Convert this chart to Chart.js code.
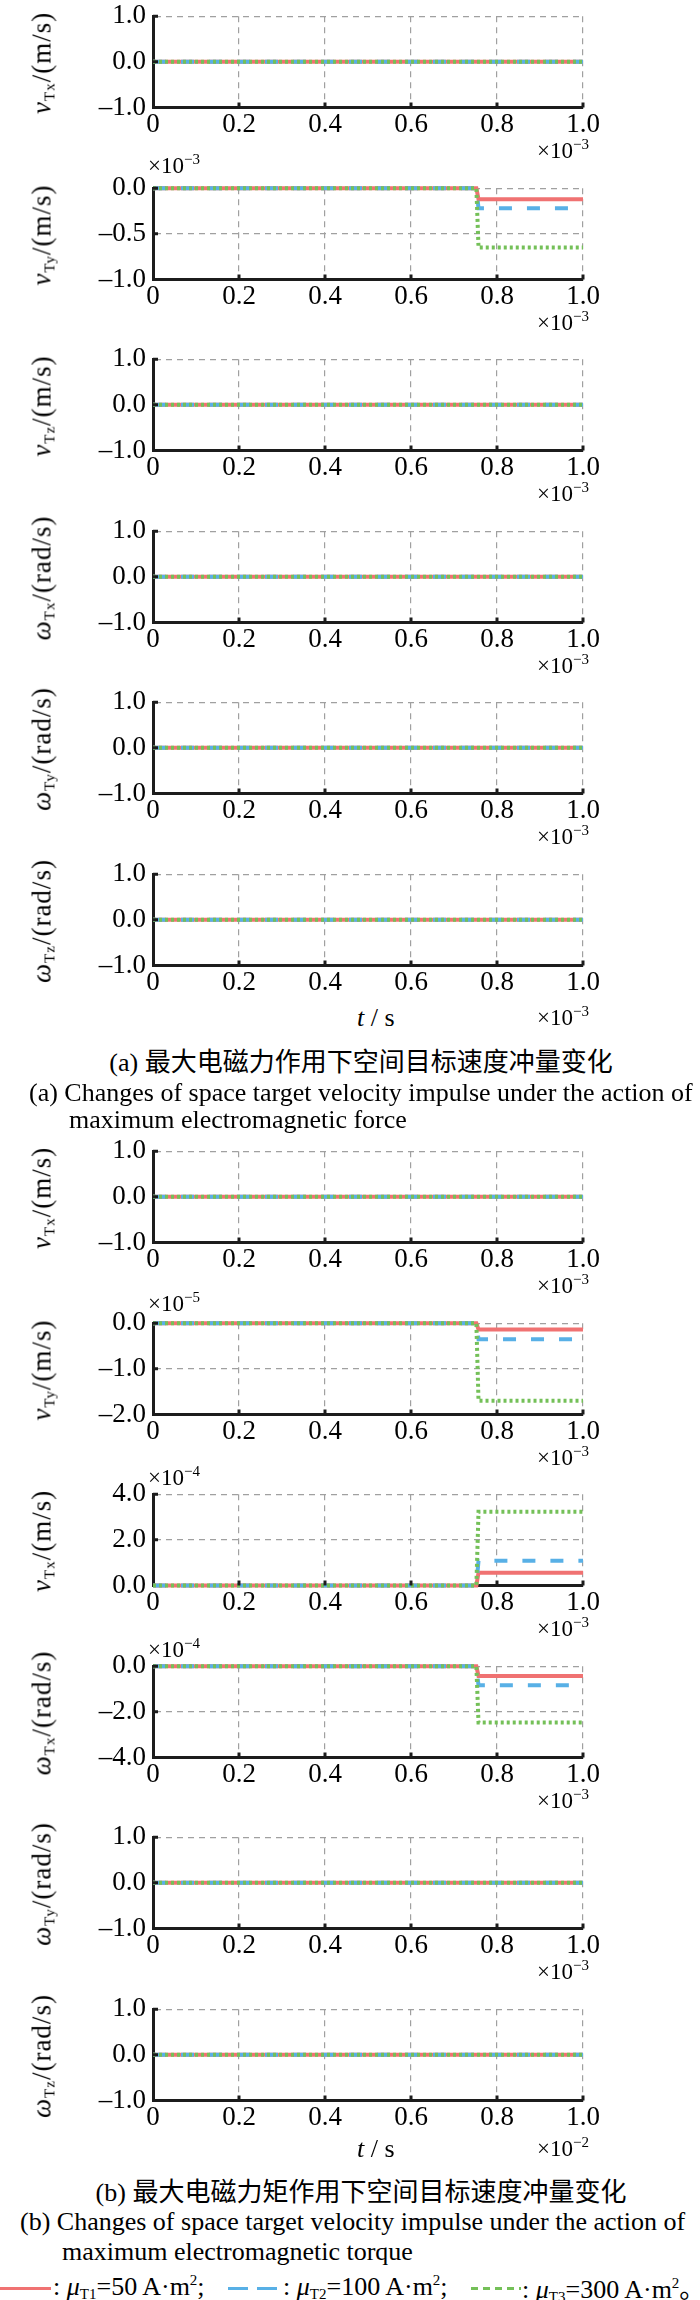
<!DOCTYPE html>
<html>
<head>
<meta charset="utf-8">
<script src="https://cdn.jsdelivr.net/npm/chart.js@4.4.1/dist/chart.umd.min.js"></script>
<style>
  body { margin: 0; background: #fff; }
  #page { position: relative; width: 700px; height: 2300px; overflow: hidden;
          font-family: "Liberation Serif", "Times New Roman", serif; color: #000; }
  .panel { position: absolute; left: 0; width: 700px; height: 150px; }
  .ytitle { position: absolute; left: 42px; white-space: nowrap; font-size: 27px; line-height: 27px;
            letter-spacing: 1px; transform: translate(-50%, -50%) rotate(-90deg); }
  .mult { position: absolute; font-size: 23px; line-height: 23px; white-space: nowrap; }
  .mult sup { font-size: 15px; vertical-align: 9px; line-height: 0; }
  sub { font-size: 15px; vertical-align: -4px; line-height: 0; }
  sup { font-size: 15px; vertical-align: 10px; line-height: 0; }
  .txt { position: absolute; white-space: nowrap; font-size: 26px; line-height: 26px; }
  .cap { position: absolute; left: 0; width: 722px; text-align: center; white-space: nowrap;
         font-size: 26px; line-height: 26px; }
  .cjk { font-family: "Noto Sans CJK SC", sans-serif; }
  .leg { position: absolute; height: 0; top: 2287px; }
</style>
</head>
<body>
<div id="page"></div>
<script>
// ------------------------------------------------------------
// Velocity impulse of the space target, 2 x 6 stacked panels.
// Values are in the units shown by each panel's multiplier.
// ------------------------------------------------------------

const T_S = [0, 0.752, 0.757, 1.0];   // time samples (x multiplier units)
const X_TICKS = [0, 0.2, 0.4, 0.6, 0.8, 1.0];
const X_TICK_LABELS = ['0', '0.2', '0.4', '0.6', '0.8', '1.0'];
const ZERO = [0, 0, 0, 0];

// (a) maximum electromagnetic force, v_Ty (×10^-3 m/s)
const A_VTY_MU1 = [0, 0, -0.12, -0.12];
const A_VTY_MU2 = [0, 0, -0.22, -0.22];
const A_VTY_MU3 = [0, 0, -0.65, -0.65];

// (b) maximum electromagnetic torque
const B_VTY_MU1 = [0, 0, -0.14, -0.14];   // ×10^-5 m/s
const B_VTY_MU2 = [0, 0, -0.35, -0.35];
const B_VTY_MU3 = [0, 0, -1.70, -1.70];
const B_VTX_MU1 = [0, 0, 0.56, 0.56];     // ×10^-4 m/s
const B_VTX_MU2 = [0, 0, 1.08, 1.08];
const B_VTX_MU3 = [0, 0, 3.23, 3.23];
const B_WTX_MU1 = [0, 0, -0.43, -0.43];   // ×10^-4 rad/s
const B_WTX_MU2 = [0, 0, -0.84, -0.84];
const B_WTX_MU3 = [0, 0, -2.47, -2.47];

const Y_TICKS_UNIT = [-1, 0, 1];
const Y_TICKS_A_VTY = [-1, -0.5, 0];
const Y_TICKS_B_VTY = [-2, -1, 0];
const Y_TICKS_B_VTX = [0, 2, 4];
const Y_TICKS_B_WTX = [-4, -2, 0];

const SERIES_COLORS = ['#f07272', '#58b0e6', '#74c058'];   // mu_T1, mu_T2, mu_T3
const GRID = '#a0a0a0';
const AXIS = '#1c1c1c';
const FONT = '"Liberation Serif", "Times New Roman", serif';

const PAD_TOP = 20;
const PLOT_H = 94.5;
const CANVAS_H = 150;

const V = (c) => '<i>v</i><sub>T' + c + '</sub>/(m/s)';
const W = (c) => '<i>ω</i><sub>T' + c + '</sub>/(rad/s)';

const PANELS = [
  { top: 13,     title: V('x'), yTicks: Y_TICKS_UNIT,  series: [ZERO, ZERO, ZERO], xMult: '-3' },
  { top: 184.5,  title: V('y'), yTicks: Y_TICKS_A_VTY, series: [A_VTY_MU1, A_VTY_MU2, A_VTY_MU3], xMult: '-3', yMult: '-3', yMultDy: -19 },
  { top: 356,    title: V('z'), yTicks: Y_TICKS_UNIT,  series: [ZERO, ZERO, ZERO], xMult: '-3' },
  { top: 527.5,  title: W('x'), yTicks: Y_TICKS_UNIT,  series: [ZERO, ZERO, ZERO], xMult: '-3' },
  { top: 699,    title: W('y'), yTicks: Y_TICKS_UNIT,  series: [ZERO, ZERO, ZERO], xMult: '-3' },
  { top: 871,    title: W('z'), yTicks: Y_TICKS_UNIT,  series: [ZERO, ZERO, ZERO], xMult: '-3', last: true },
  { top: 1148,   title: V('x'), yTicks: Y_TICKS_UNIT,  series: [ZERO, ZERO, ZERO], xMult: '-3' },
  { top: 1319.5, title: V('y'), yTicks: Y_TICKS_B_VTY, series: [B_VTY_MU1, B_VTY_MU2, B_VTY_MU3], xMult: '-3', yMult: '-5', yMultDy: -16 },
  { top: 1491,   title: V('x'), yTicks: Y_TICKS_B_VTX, series: [B_VTX_MU1, B_VTX_MU2, B_VTX_MU3], xMult: '-3', yMult: '-4', yMultDy: -14 },
  { top: 1662.5, title: W('x'), yTicks: Y_TICKS_B_WTX, series: [B_WTX_MU1, B_WTX_MU2, B_WTX_MU3], xMult: '-3', yMult: '-4', yMultDy: -13 },
  { top: 1834,   title: W('y'), yTicks: Y_TICKS_UNIT,  series: [ZERO, ZERO, ZERO], xMult: '-3' },
  { top: 2006,   title: W('z'), yTicks: Y_TICKS_UNIT,  series: [ZERO, ZERO, ZERO], xMult: '-2', last: true }
];

const page = document.getElementById('page');

// Small inward tick marks on the left and bottom axes.
const inwardTicks = {
  id: 'inwardTicks',
  afterDraw(chart) {
    const { ctx, chartArea: a, scales: { x, y } } = chart;
    ctx.save();
    ctx.strokeStyle = AXIS;
    ctx.lineWidth = 3;
    ctx.beginPath();
    x.ticks.forEach(t => {
      if (t.value === 0) return;
      const px = x.getPixelForValue(t.value);
      ctx.moveTo(px, a.bottom);
      ctx.lineTo(px, a.bottom - 5);
    });
    y.ticks.forEach(t => {
      const py = y.getPixelForValue(t.value);
      if (Math.abs(py - a.bottom) < 1) return;
      ctx.moveTo(a.left, py);
      ctx.lineTo(a.left + 5, py);
    });
    ctx.stroke();
    ctx.restore();
  }
};

function addText(cls, left, top, html) {
  const el = document.createElement('div');
  el.className = cls;
  if (left !== null) el.style.left = left + 'px';
  el.style.top = top + 'px';
  el.innerHTML = html;
  page.appendChild(el);
  return el;
}

function fmtY(v) {
  return v.toFixed(1).replace('-', '–');
}

function makePanel(p) {
  const box = document.createElement('div');
  box.className = 'panel';
  box.style.top = (p.top - PAD_TOP) + 'px';
  const cv = document.createElement('canvas');
  cv.width = 700;
  cv.height = CANVAS_H;
  box.appendChild(cv);
  page.appendChild(box);

  const styles = [
    { dash: [], width: 4 },
    { dash: [13, 15], width: 4 },
    { dash: [3, 3], width: 4 }
  ];
  // mu_T3 first so it is painted on top, mu_T1 last so it sits underneath
  const datasets = [2, 1, 0].map(k => ({
    data: T_S.map((t, i) => ({ x: t, y: p.series[k][i] })),
    borderColor: SERIES_COLORS[k],
    borderWidth: styles[k].width,
    borderDash: styles[k].dash,
    borderCapStyle: 'butt',
    pointRadius: 0,
    tension: 0,
    clip: false
  }));

  const yMin = p.yTicks[0];
  const yMax = p.yTicks[p.yTicks.length - 1];

  new Chart(cv, {
    type: 'line',
    data: { datasets },
    options: {
      responsive: false,
      animation: false,
      events: [],
      layout: { padding: { left: 0, right: 117, top: PAD_TOP, bottom: 0 } },
      plugins: { legend: { display: false }, tooltip: { enabled: false } },
      scales: {
        x: {
          type: 'linear', min: 0, max: 1,
          afterBuildTicks: s => { s.ticks = X_TICKS.map(v => ({ value: v })); },
          afterFit: s => { s.height = CANVAS_H - PAD_TOP - PLOT_H; },
          grid: { color: GRID, lineWidth: 1.2, drawTicks: false },
          border: { color: AXIS, width: 3, dash: [6, 5] },
          ticks: {
            font: { family: FONT, size: 27 }, color: '#000', padding: 1,
            maxRotation: 0, autoSkip: false,
            callback: (v, i) => X_TICK_LABELS[i]
          }
        },
        y: {
          type: 'linear', min: yMin, max: yMax,
          afterBuildTicks: s => { s.ticks = p.yTicks.map(v => ({ value: v })); },
          afterFit: s => { s.width = 153; },
          grid: { color: GRID, lineWidth: 1.2, drawTicks: false },
          border: { color: AXIS, width: 3, dash: [6, 5] },
          ticks: {
            font: { family: FONT, size: 27 }, color: '#000', padding: 7,
            callback: v => fmtY(v)
          }
        }
      }
    },
    plugins: [inwardTicks]
  });

  const bottom = p.top + PLOT_H;
  addText('ytitle', 42, p.top + PLOT_H / 2 + 3, p.title);
  if (p.yMult) {
    addText('mult', 148, p.top + p.yMultDy - 11.5, '×10<sup>−' + p.yMult.slice(1) + '</sup>');
  }
  const xmDy = p.last ? (p.xMult === '-2' ? 48 : 52) : 43;
  addText('mult', 537, bottom + xmDy - 11.5, '×10<sup>−' + p.xMult.slice(1) + '</sup>');
  if (p.last) {
    addText('txt', 357, bottom + xmDy - 13, '<i>t</i> / s');
  }
}

PANELS.forEach(makePanel);

// captions
addText('cap', null, 1047, '(a) <span class="cjk">最大电磁力作用下空间目标速度冲量变化</span>');
addText('txt', 29, 1080, '(a) Changes of space target velocity impulse under the action of');
addText('txt', 69, 1107, 'maximum electromagnetic force');
addText('cap', null, 2177, '(b) <span class="cjk">最大电磁力矩作用下空间目标速度冲量变化</span>');
addText('txt', 20, 2209, '(b) Changes of space target velocity impulse under the action of');
addText('txt', 62, 2239, 'maximum electromagnetic torque');

// legend
function legendLine(left, width, color, style) {
  const el = document.createElement('div');
  el.className = 'leg';
  el.style.left = left + 'px';
  el.style.width = width + 'px';
  if (style === 'solid') {
    el.style.borderTop = '3px solid ' + color;
  } else {
    const on = style === 'dashed' ? 20 : 7;
    const off = style === 'dashed' ? 9 : 5;
    el.style.height = '3px';
    el.style.background = 'repeating-linear-gradient(90deg,' + color + ' 0 ' + on + 'px, transparent ' + on + 'px ' + (on + off) + 'px)';
  }
  page.appendChild(el);
}
legendLine(0, 51, SERIES_COLORS[0], 'solid');
legendLine(228, 53, SERIES_COLORS[1], 'dashed');
legendLine(471, 50, SERIES_COLORS[2], 'dotted');
addText('txt', 53, 2274, ': <i>μ</i><sub>T1</sub>=50 A·m<sup>2</sup>;');
addText('txt', 283, 2274, ': <i>μ</i><sub>T2</sub>=100 A·m<sup>2</sup>;');
addText('txt', 522, 2274, ': <i>μ</i><sub>T3</sub>=300 A·m<sup>2</sup><span class="cjk">。</span>');
</script>
</body>
</html>
